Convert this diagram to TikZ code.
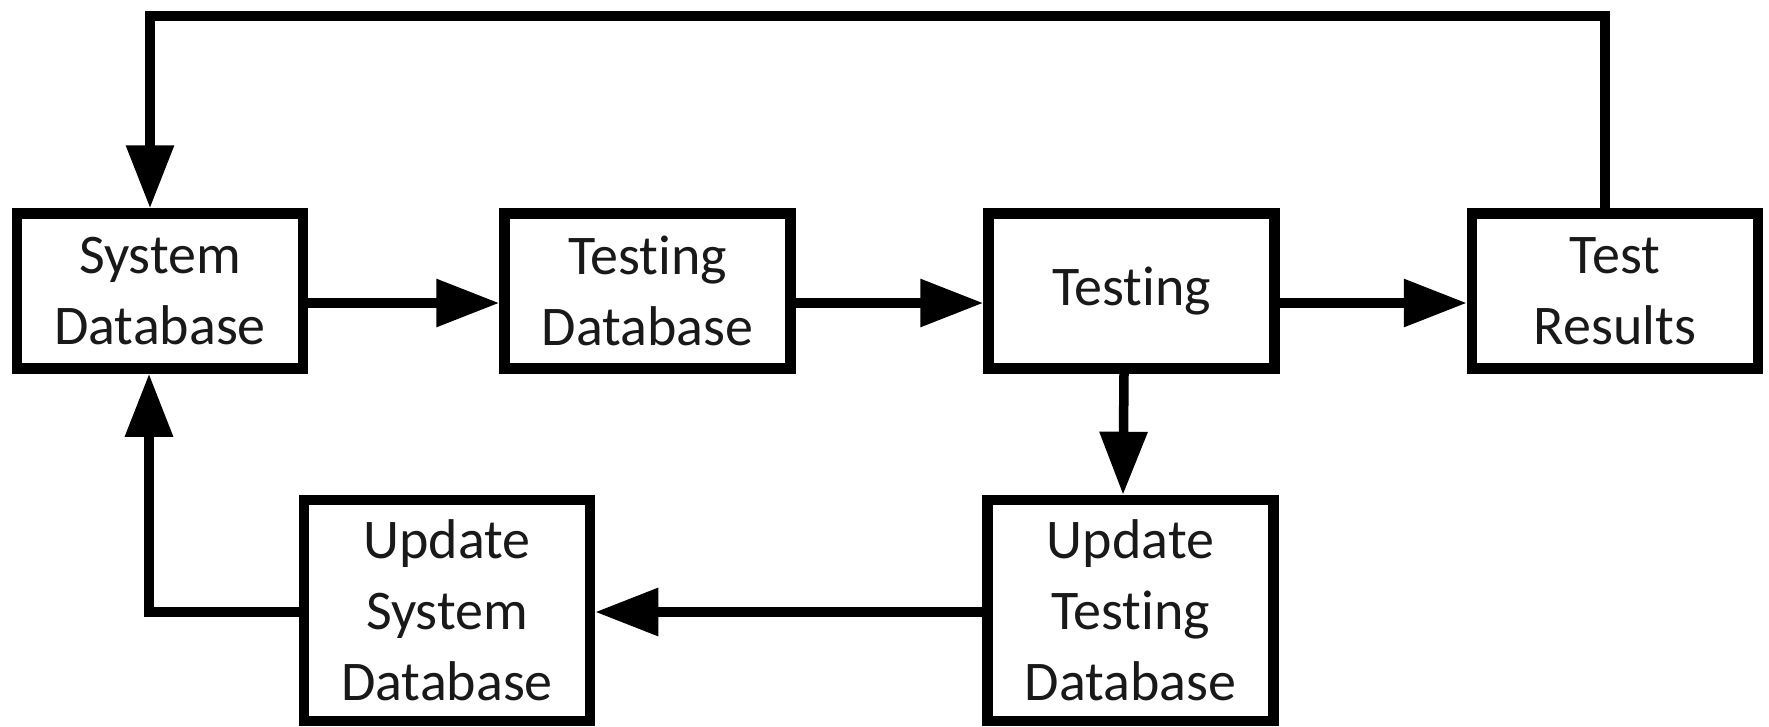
\documentclass[tikz,border=0pt]{standalone}
\usepackage{fontspec}
\setmainfont{Carlito}[Ligatures={NoCommon}]
\usetikzlibrary{arrows.meta}
\begin{document}
\begin{tikzpicture}[x=1pt,y=-1pt,
  blk/.style={draw=black,line width=10.5pt,fill=white,minimum width=286pt,inner sep=0pt,
    align=center,text=black!90,font=\fontsize{56}{71}\selectfont},
  toprow/.style={blk,minimum height=155pt},
  botrow/.style={blk,minimum height=221pt},
  conn/.style={line width=9.5pt,-{Triangle[length=63pt,width=46pt]}}]
\useasboundingbox[fill=white] (0,0) rectangle (1769,726);
\node[toprow] (sd) at (160,291) {System\\Database};
\node[toprow] (td) at (647.5,291) {Testing\\Database};
\node[toprow] (te) at (1131.5,291) {Testing};
\node[toprow] (tr) at (1615,291) {Test\\Results};
\node[botrow] (utd) at (1130.5,610.5) {Update\\Testing\\Database};
\node[botrow] (usd) at (447,610.5) {Update\\System\\Database};
\coordinate (c1) at (1605,16);
\coordinate (c2) at (150,16);
\coordinate (c3) at (149,612);
\draw[conn] ([yshift=-12pt]sd.east) -- ([yshift=-12pt]td.west);
\draw[conn] ([yshift=-12pt]td.east) -- ([yshift=-12pt]te.west);
\draw[conn] ([yshift=-12pt]te.east) -- ([yshift=-12pt]tr.west);
\draw[conn] ([xshift=-7.5pt]te.south) -- ([xshift=-7.5pt]utd.north);
\draw[conn] ([yshift=-1.5pt]utd.west) -- ([yshift=-1.5pt]usd.east);
\draw[conn,line join=miter] ([xshift=-10pt]tr.north) -- (c1) -- (c2) -- ([xshift=-10pt]sd.north);
\draw[conn,line join=miter] ([yshift=-1.5pt]usd.west) -- (c3) -- ([xshift=-11pt]sd.south);
\end{tikzpicture}
\end{document}
